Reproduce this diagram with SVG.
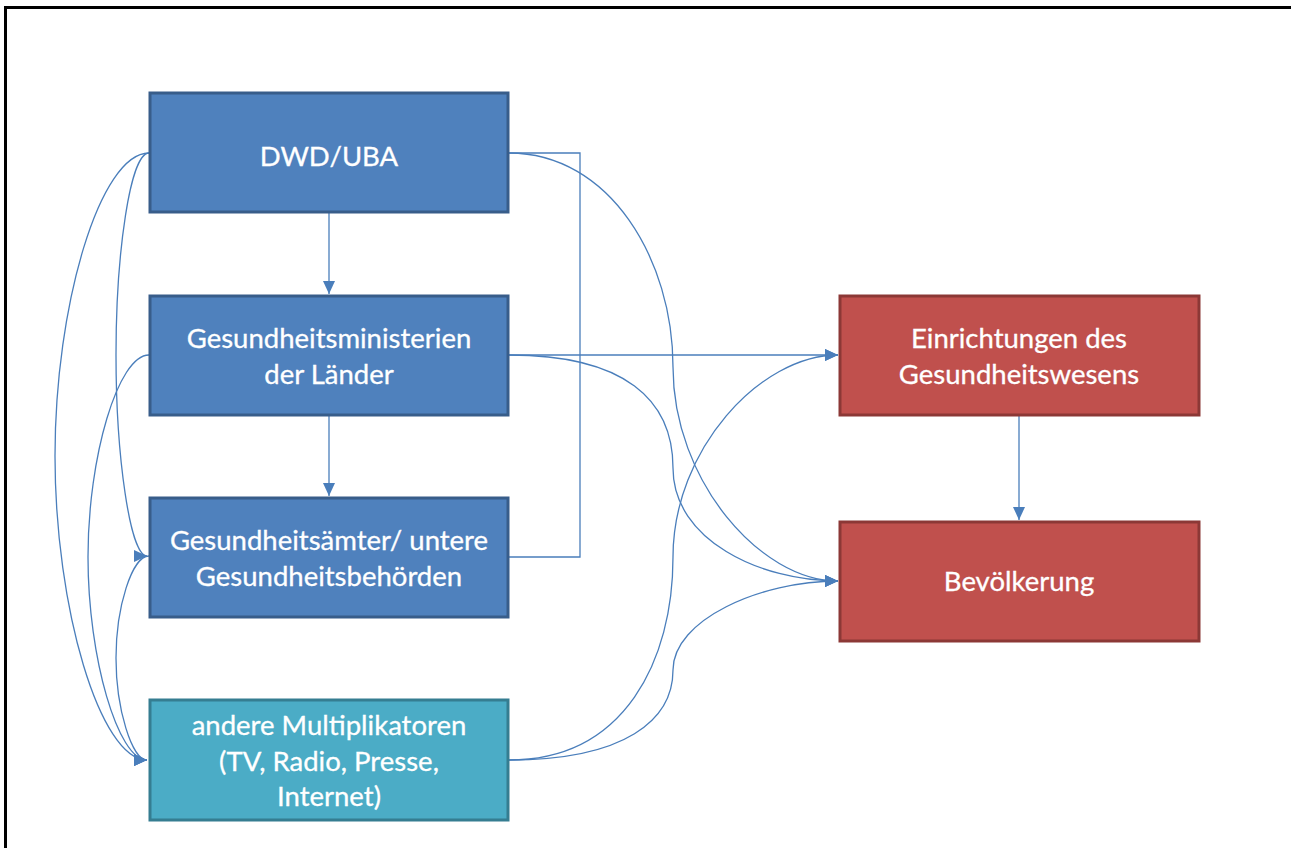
<svg xmlns="http://www.w3.org/2000/svg" width="1291" height="848" viewBox="0 0 1291 848">
<style>
.frame{fill:none;stroke:#000;stroke-width:3}
.blue{fill:#4f81bd;stroke:#385d8a;stroke-width:3}
.teal{fill:#4bacc6;stroke:#357d91;stroke-width:3}
.red{fill:#c0504d;stroke:#8c3836;stroke-width:3}
.lbl{font-family:Lato,"Open Sans","Liberation Sans",sans-serif;font-size:27.5px;fill:#fff;stroke:#fff;stroke-width:0.3;text-anchor:middle}
.c{fill:none;stroke:#4a7ebb;stroke-width:1.3}
.ca{fill:none;stroke:#4a7ebb;stroke-width:1.3;marker-end:url(#ah)}
</style>
<defs>
<marker id="ah" markerWidth="13" markerHeight="12" refX="13" refY="6" orient="auto" markerUnits="userSpaceOnUse">
<path d="M0,0 L13,6 L0,12 Z" fill="#4a7ebb"/>
</marker>
</defs>
<rect width="1291" height="848" fill="#fff"/>
<path class="frame" d="M5.5,860 L5.5,7.5 L1300,7.5"/>
<g id="connectors">
<path class="ca" d="M329,212 L329,294"/>
<path class="ca" d="M329,415 L329,496"/>
<path class="ca" d="M1019,416 L1019,520"/>
<path class="c" d="M509,153 L580,153 L580,557 L509,557"/>
<path class="ca" d="M509,355 L838,355"/>
<path class="ca" d="M509,153 C610,153 673,260 673,367 C673,480 760,581 838,581"/>
<path class="ca" d="M509,355 C625,355 673,400 673,468 C673,540 760,581 838,581"/>
<path class="ca" d="M509,760 C625,760 673,660 673,557 C673,450 760,355 838,355"/>
<path class="ca" d="M509,760 C625,760 673,720 673,670 C673,620 760,581 838,581"/>
<path class="ca" d="M149,153 C100,153 55,305 55,456 C55,608 100,760 147,760"/>
<path class="ca" d="M149,153 C130,153 116,254 116,355 C116,456 130,556 147,556"/>
<path class="ca" d="M149,355 C118,355 88,457 88,557 C88,658 118,760 147,760"/>
<path class="ca" d="M149,556 C132,556 116,607 116,658 C116,709 132,760 147,760"/>
</g>
<g id="dwd">
<rect class="blue" x="150" y="93" width="358" height="119"/>
<text class="lbl" x="329" y="166">DWD/UBA</text>
</g>
<g id="ministerien">
<rect class="blue" x="150" y="296" width="358" height="119"/>
<text class="lbl" x="329" y="348">Gesundheitsministerien</text>
<text class="lbl" x="329" y="384">der Länder</text>
</g>
<g id="aemter">
<rect class="blue" x="150" y="498" width="358" height="119"/>
<text class="lbl" x="329" y="550">Gesundheitsämter/ untere</text>
<text class="lbl" x="329" y="586">Gesundheitsbehörden</text>
</g>
<g id="multiplikatoren">
<rect class="teal" x="150" y="700" width="358" height="120"/>
<text class="lbl" x="329" y="735">andere Multiplikatoren</text>
<text class="lbl" x="329" y="771">(TV, Radio, Presse,</text>
<text class="lbl" x="329" y="806">Internet)</text>
</g>
<g id="einrichtungen">
<rect class="red" x="840" y="296" width="359" height="119"/>
<text class="lbl" x="1019" y="348">Einrichtungen des</text>
<text class="lbl" x="1019" y="384">Gesundheitswesens</text>
</g>
<g id="bevoelkerung">
<rect class="red" x="840" y="522" width="359" height="119"/>
<text class="lbl" x="1019" y="591">Bevölkerung</text>
</g>
</svg>
